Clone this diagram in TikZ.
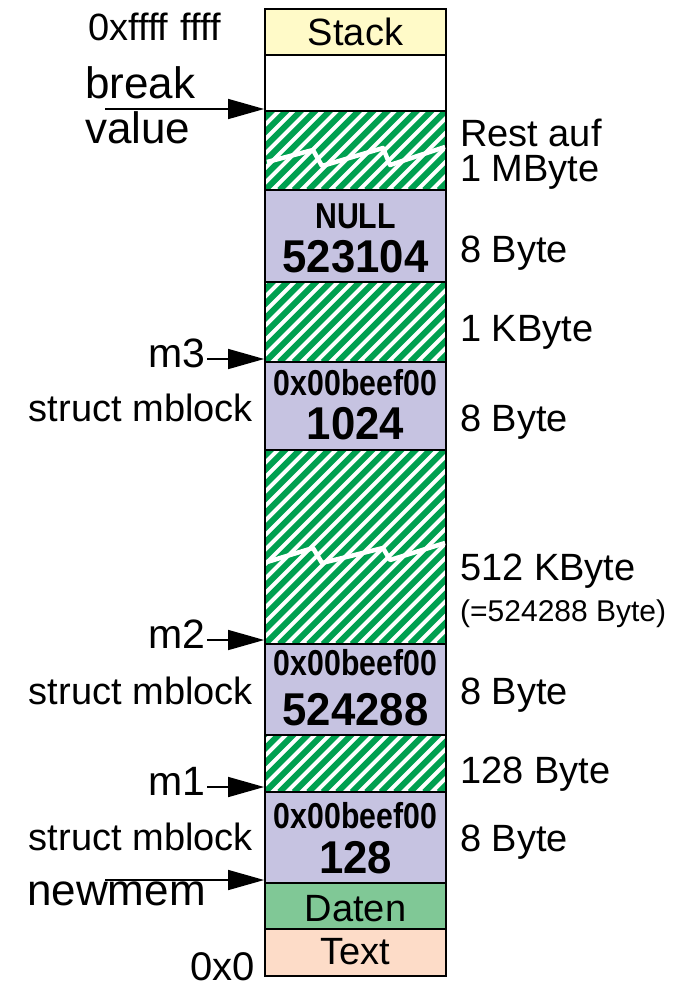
\documentclass[tikz,border=0pt]{standalone}
\usepackage{fontspec}
\setmainfont{Liberation Sans}
\newfontfamily\cbf{Liberation Sans}[FakeStretch=0.84]
\newfontfamily\nbf{Liberation Sans}[FakeStretch=0.95]
\usetikzlibrary{arrows.meta}
\definecolor{stackc}{RGB}{255,250,200}
\definecolor{lavc}{RGB}{198,195,225}
\definecolor{datc}{RGB}{128,200,150}
\definecolor{txtc}{RGB}{253,220,200}
\definecolor{hgreen}{RGB}{0,160,80}
\newcommand\myfs[1]{\fontsize{#1}{#1}\selectfont}
\tikzset{
  box/.style={draw, line width=1.8pt, minimum width=181pt, inner sep=0pt, anchor=center},
  hatch/.style={box, fill=white, path picture={
      \foreach \i in {-15,...,14} {
        \draw[hgreen, line width=6pt] ([xshift=\i*14.5pt]path picture bounding box.south west) -- ++(260pt,260pt);
      }}},
  lab/.style={inner sep=0pt, font={\myfs{38}}},
  big/.style={inner sep=0pt, font={\myfs{44}}},
  mlab/.style={inner sep=0pt, font={\myfs{41}}},
  sm/.style={inner sep=0pt, font={\myfs{30}}},
  hdr/.style={inner sep=0pt, font={\cbf\bfseries\myfs{36}}},
  num/.style={inner sep=0pt, font={\nbf\bfseries\myfs{46}}},
  arr/.style={line width=1.5pt, -{Triangle[length=36pt,width=20pt]}},
  tear/.style={white, line width=4.5pt, line join=round}
}
\begin{document}
\begin{tikzpicture}[x=1pt,y=-1pt]
\useasboundingbox (0,0) rectangle (685,989);
% memory column
\node[box, fill=stackc, minimum height=46pt] (stack) at (355.5,32) {};
\node[box, fill=white, minimum height=56pt] (free) at (355.5,83) {};
\node[hatch, minimum height=79pt] (h1) at (355.5,150.5) {};
\node[box, fill=lavc, minimum height=92pt] (bnull) at (355.5,236) {};
\node[hatch, minimum height=80pt] (h2) at (355.5,322) {};
\node[box, fill=lavc, minimum height=88pt] (b3) at (355.5,406) {};
\node[hatch, minimum height=194pt] (h3) at (355.5,547) {};
\node[box, fill=lavc, minimum height=91pt] (b2) at (355.5,689.5) {};
\node[hatch, minimum height=57pt] (h4) at (355.5,763.5) {};
\node[box, fill=lavc, minimum height=91pt] (b1) at (355.5,837.5) {};
\node[box, fill=datc, minimum height=46pt] (daten) at (355.5,906) {};
\node[box, fill=txtc, minimum height=47pt] (text) at (355.5,952.5) {};
% tears
\draw[tear] (267,162) -- (313,150) -- (322,166) -- (383,148) -- (390,165) -- (445,147);
\draw[tear] (267,562) -- (313,548) -- (322,563) -- (383,548) -- (390,560) -- (445,543);
% box texts
\node[lab, anchor=base] (tstack) at (355.5,45) {Stack};
\node[hdr, anchor=base] (tnull) at (355.5,228) {NULL};
\node[num, anchor=base] (tn1) at (355.5,272) {523104};
\node[hdr, anchor=base] (tb3a) at (355.5,395) {0x00beef00};
\node[num, anchor=base] (tb3b) at (355.5,439) {1024};
\node[hdr, anchor=base] (tb2a) at (355.5,675) {0x00beef00};
\node[num, anchor=base] (tb2b) at (355.5,725) {524288};
\node[hdr, anchor=base] (tb1a) at (355.5,828) {0x00beef00};
\node[num, anchor=base] (tb1b) at (355.5,873) {128};
\node[lab, anchor=base] (tdaten) at (355.5,921) {Daten};
\node[lab, anchor=base] (ttext) at (355.5,964) {Text};
% right labels
\node[lab, anchor=base west] (r1) at (460,146) {Rest auf};
\node[lab, anchor=base west] (r2) at (460,181) {1 MByte};
\node[lab, anchor=base west] (r3) at (460,262) {8 Byte};
\node[lab, anchor=base west] (r4) at (460,341) {1 KByte};
\node[lab, anchor=base west] (r5) at (460,431) {8 Byte};
\node[lab, anchor=base west] (r6) at (460,580) {512 KByte};
\node[sm, anchor=base west] (r7) at (460,621) {(=524288 Byte)};
\node[lab, anchor=base west] (r8) at (460,704) {8 Byte};
\node[lab, anchor=base west] (r9) at (460,783) {128 Byte};
\node[lab, anchor=base west] (r10) at (460,851) {8 Byte};
% left labels
\node[lab, font={\myfs{38}}, anchor=base west] (top) at (88,40) {0xffff\hspace{12pt}ffff};
\node[big, anchor=base west] (brk) at (85,98) {break};
\node[big, anchor=base west] (val) at (85,143) {value};
\node[mlab, anchor=base east] (m3) at (206,367) {m3};
\node[lab, anchor=base east] (s3) at (253,421) {struct mblock};
\node[mlab, anchor=base east] (m2) at (206,648) {m2};
\node[lab, anchor=base east] (s2) at (253,704) {struct mblock};
\node[mlab, anchor=base east] (m1) at (206,795) {m1};
\node[lab, anchor=base east] (s1) at (253,850) {struct mblock};
\node[big, anchor=base west] (nm) at (27,905) {newmem};
\node[mlab, font={\myfs{40}}, anchor=base east] (zero) at (255,980) {0x0};
% arrows
\coordinate (abv) at (105,109);
\coordinate (am3) at (207,359);
\coordinate (am2) at (207,640);
\coordinate (am1) at (207,787);
\coordinate (anm) at (105,880);
\draw[arr] (abv) -- (abv -| h1.west);
\draw[arr] (am3) -- (am3 -| b3.west);
\draw[arr] (am2) -- (am2 -| b2.west);
\draw[arr] (am1) -- (am1 -| b1.west);
\draw[arr] (anm) -- (anm -| daten.west);
\end{tikzpicture}
\end{document}
